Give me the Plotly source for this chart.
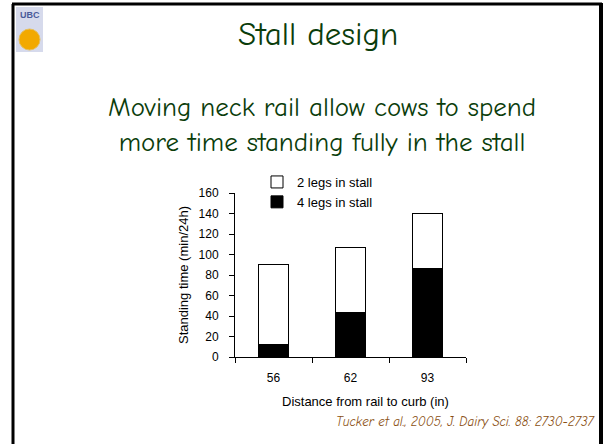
import plotly.graph_objects as go

# data
distances = ["56", "62", "93"]
four_legs = [12, 43, 86]
two_legs = [78, 64, 54]
y_ticks = [0, 20, 40, 60, 80, 100, 120, 140, 160]

W, H = 604, 444
PLOT_L, PLOT_R, PLOT_T, PLOT_B = 235, 466, 193, 357

COMIC = "Comic Sans MS, Comic Neue, DejaVu Sans, sans-serif"
ARIAL = "Arial, Liberation Sans, sans-serif"
GREEN = "#0b3d0b"


def px(x):
    return (x - PLOT_L) / (PLOT_R - PLOT_L)


def py(y):
    return (PLOT_B - y) / (PLOT_B - PLOT_T)


def note(text, x, y, size, family=ARIAL, color="black", **kw):
    return dict(text=text, x=px(x), y=py(y), xref="paper", yref="paper", showarrow=False,
                xanchor=kw.pop("xanchor", "center"), yanchor="middle",
                font={"family": family, "size": size, "color": color}, **kw)


fig = go.Figure()
fig.add_trace(
    go.Bar(
        x=distances,
        y=four_legs,
        name="4 legs in stall",
        marker={"color": "black", "line": {"color": "black", "width": 1}},
        width=0.4,
    )
)
fig.add_trace(
    go.Bar(
        x=distances,
        y=two_legs,
        name="2 legs in stall",
        marker={"color": "white", "line": {"color": "black", "width": 1}},
        width=0.4,
    )
)

# slide frame and logo
shapes = [
    dict(type="line", xref="paper", yref="paper", x0=px(13), x1=px(13), y0=py(4), y1=py(444),
         line={"color": "black", "width": 3}),
    dict(type="line", xref="paper", yref="paper", x0=px(12), x1=px(602), y0=py(4), y1=py(4),
         line={"color": "black", "width": 3}),
    dict(type="line", xref="paper", yref="paper", x0=px(601), x1=px(601), y0=py(3), y1=py(444),
         line={"color": "black", "width": 4}),
    dict(type="rect", xref="paper", yref="paper", x0=px(16), x1=px(43), y0=py(7), y1=py(52),
         fillcolor="#d6daec", line={"width": 0}),
    dict(type="circle", xref="paper", yref="paper", x0=px(19), x1=px(40), y0=py(29), y1=py(50),
         fillcolor="#f2a900", line={"color": "#e6c060", "width": 1}),
]

annotations = [
    note("<b>UBC</b>", 29.5, 15, 9, color="#4a5a9a"),
    note("Stall design", 318, 34, 33, family=COMIC, color=GREEN),
    note("Moving neck rail allow cows to spend<br>more time standing fully in the stall",
         322, 125, 27, family=COMIC, color=GREEN),
    note("<i>Tucker et al., 2005, J. Dairy Sci. 88: 2730-2737</i>", 598, 421, 13,
         family=COMIC, color="#8a4f12", xanchor="right"),
    note("Distance from rail to curb (in)", 365, 401, 13),
    note("Standing time (min/24h)", 183, 275, 13, textangle=-90),
]

fig.update_layout(
    width=W,
    height=H,
    margin={"l": PLOT_L, "r": W - PLOT_R, "t": PLOT_T, "b": H - PLOT_B, "pad": 0},
    paper_bgcolor="white",
    plot_bgcolor="white",
    barmode="stack",
    shapes=shapes,
    annotations=annotations,
    font={"family": ARIAL, "size": 12, "color": "black"},
    legend={
        "x": px(257),
        "y": py(167),
        "xanchor": "left",
        "yanchor": "top",
        "traceorder": "reversed",
        "font": {"family": ARIAL, "size": 13},
        "bgcolor": "rgba(0,0,0,0)",
        "itemwidth": 30,
        "tracegroupgap": 0,
    },
    xaxis={
        "type": "category",
        "range": [-0.5, 2.5],
        "showline": True,
        "linecolor": "black",
        "linewidth": 1,
        "ticks": "outside",
        "tickson": "boundaries",
        "ticklen": 5,
        "tickcolor": "black",
        "ticklabelstandoff": 10,
        "showgrid": False,
        "zeroline": False,
    },
    yaxis={
        "range": [0, 160],
        "tickvals": y_ticks,
        "showline": True,
        "linecolor": "black",
        "linewidth": 1,
        "ticks": "outside",
        "ticklen": 5,
        "tickcolor": "black",
        "ticklabelstandoff": 8,
        "showgrid": False,
        "zeroline": False,
    },
)

fig.write_html(
    "out.html",
    config={"displayModeBar": False},
    post_script="document.body.style.margin = '0'; document.body.style.overflow = 'hidden';",
)
